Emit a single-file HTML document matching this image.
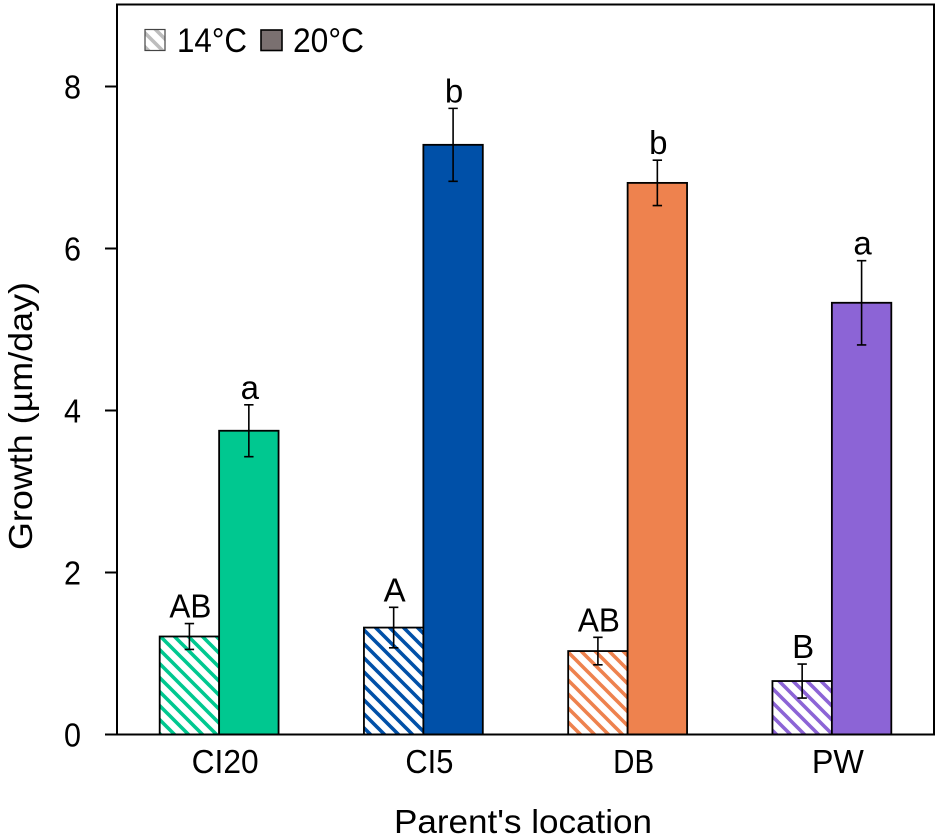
<!DOCTYPE html>
<html lang="en">
<head>
<meta charset="utf-8">
<title>Growth by parent's location</title>
<style>
html,body{margin:0;padding:0;background:#fff;}
svg{display:block;}
text{font-family:"Liberation Sans",sans-serif;fill:#000;}
</style>
</head>
<body>
<svg id="chart" xmlns="http://www.w3.org/2000/svg" width="939" height="840" viewBox="0 0 939 840">
<defs>
<pattern id="hatch-green" patternUnits="userSpaceOnUse" width="14" height="14"><rect width="14" height="14" fill="#fff"/><path d="M-7 -7L21 21M-7 7L7 21M7 -7L21 7" stroke="#00c890" stroke-width="3.6"/></pattern>
<pattern id="hatch-blue" patternUnits="userSpaceOnUse" width="14" height="14"><rect width="14" height="14" fill="#fff"/><path d="M-7 -7L21 21M-7 7L7 21M7 -7L21 7" stroke="#0050a8" stroke-width="3.6"/></pattern>
<pattern id="hatch-orange" patternUnits="userSpaceOnUse" width="14" height="14"><rect width="14" height="14" fill="#fff"/><path d="M-7 -7L21 21M-7 7L7 21M7 -7L21 7" stroke="#ee824e" stroke-width="3.6"/></pattern>
<pattern id="hatch-purple" patternUnits="userSpaceOnUse" width="14" height="14"><rect width="14" height="14" fill="#fff"/><path d="M-7 -7L21 21M-7 7L7 21M7 -7L21 7" stroke="#8c64d6" stroke-width="3.6"/></pattern>
<pattern id="hatch-gray" patternUnits="userSpaceOnUse" width="14" height="14"><rect width="14" height="14" fill="#fff"/><path d="M-7 -7L21 21M-7 7L7 21M7 -7L21 7" stroke="#bdbdbd" stroke-width="3.6"/></pattern>
</defs>
<g id="plot"></g>
<rect x="117" y="4.5" width="817" height="730" fill="none" stroke="#000" stroke-width="2"/>
<line x1="105" x2="117" y1="734.5" y2="734.5" stroke="#000" stroke-width="2"/>
<g>
<rect x="145" y="29.5" width="20" height="21" fill="url(#hatch-gray)" stroke="#444" stroke-width="1.2"/>
<text x="177" y="52" font-size="34" textLength="70" lengthAdjust="spacingAndGlyphs">14°C</text>
<rect x="261" y="30" width="21" height="20.5" fill="#7a7070" stroke="#000" stroke-width="1.6"/>
<text x="293" y="52" font-size="34" textLength="71" lengthAdjust="spacingAndGlyphs">20°C</text>
</g>
<text transform="translate(32 416) rotate(-90)" text-anchor="middle" font-size="33" textLength="268" lengthAdjust="spacingAndGlyphs">Growth (µm/day)</text>
<text x="523" y="833" text-anchor="middle" font-size="33" textLength="258" lengthAdjust="spacingAndGlyphs">Parent's location</text>
</svg>
<script>
const categories = ["CI20", "CI5", "DB", "PW"];
const yTicks = [0, 2, 4, 6, 8];
const growth14 = [1.21, 1.32, 1.03, 0.66];
const growth20 = [3.75, 7.28, 6.81, 5.33];
const error14 = [0.16, 0.25, 0.17, 0.21];
const error20 = [0.32, 0.45, 0.28, 0.52];
const letters14 = ["AB", "A", "AB", "B"];
const letters20 = ["a", "b", "b", "a"];
const solidColors = ["#00c890", "#0050a8", "#ee824e", "#8c64d6"];
const hatchFills = ["url(#hatch-green)", "url(#hatch-blue)", "url(#hatch-orange)", "url(#hatch-purple)"];

const NS = "http://www.w3.org/2000/svg";
const plot = document.getElementById("plot");
const plotLeft = 117, plotRight = 934, plotBottom = 734.5, unitPx = 81;
const bandWidth = (plotRight - plotLeft) / categories.length;
const barWidth = bandWidth * 0.291;

function yScale(v) { return plotBottom - v * unitPx; }
function xCenter(i) { return plotLeft + bandWidth * (i + 0.5); }

function make(tag, attrs) {
  const el = document.createElementNS(NS, tag);
  for (const k in attrs) el.setAttribute(k, attrs[k]);
  plot.appendChild(el);
  return el;
}

yTicks.forEach(function (t) {
  if (t !== 0) {
    const tick = make("line", { x1: 105, x2: plotLeft, y1: yScale(t), y2: yScale(t), stroke: "#000", "stroke-width": 2 });
    
    
  }
  const label = make("text", { x: 81, y: yScale(t) + 12, "text-anchor": "end", "font-size": 33, textLength: 17, lengthAdjust: "spacingAndGlyphs" });
  label.textContent = String(t);
  
  
});

function drawBar(value, err, x, fill, letter, kind) {
  const top = yScale(value);
  const bar = make("rect", { x: x, y: top, width: barWidth, height: plotBottom - top, fill: fill, stroke: "#000", "stroke-width": 1.8 });
  
  
  const cx = x + barWidth / 2;
  const hi = yScale(value + err);
  const lo = yScale(value - err);
  const errPath = make("path", {
    d: "M" + (cx - 4.7) + " " + hi + "H" + (cx + 4.7) + "M" + cx + " " + hi + "V" + lo + "M" + (cx - 4.7) + " " + lo + "H" + (cx + 4.7),
    fill: "none", stroke: "#000", "stroke-width": 1.6
  });
  
  
  const sig = make("text", { x: cx + 1, y: hi - 6, "text-anchor": "middle", "font-size": 33 });
  sig.textContent = letter;
  if (letter.length > 1) {
    sig.setAttribute("textLength", 42);
    sig.setAttribute("lengthAdjust", "spacingAndGlyphs");
  }
  
  
}

const labelWidths = { "CI20": 67, "CI5": 48, "DB": 41, "PW": 52 };

categories.forEach(function (cat, i) {
  const c = xCenter(i);
  drawBar(growth14[i], error14[i], c - barWidth, hatchFills[i], letters14[i], '14c');
  drawBar(growth20[i], error20[i], c, solidColors[i], letters20[i], '20c');
  const lab = make("text", { x: c + 6, y: 773, "text-anchor": "middle", "font-size": 33, textLength: labelWidths[cat], lengthAdjust: "spacingAndGlyphs" });
  lab.textContent = cat;
  
  
});
</script>
</body>
</html>
